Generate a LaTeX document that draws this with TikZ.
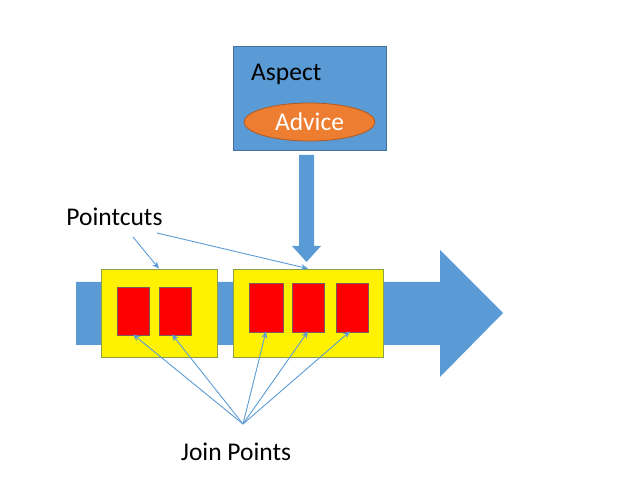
\documentclass[tikz,border=0pt]{standalone}
\usepackage{fontspec}
\setmainfont{Carlito}
\usetikzlibrary{arrows.meta,shapes.geometric}
\definecolor{mblue}{HTML}{5B9BD5}
\definecolor{mblueb}{HTML}{41719C}
\definecolor{morange}{HTML}{ED7D31}
\definecolor{morangeb}{HTML}{AE5A21}
\definecolor{myellowb}{HTML}{8A9E4A}
\definecolor{mredb}{HTML}{7A5A5A}
\tikzset{
  yellowbox/.style={draw=myellowb,fill=yellow,line width=0.8pt,minimum height=88pt,inner sep=0pt},
  redbox/.style={draw=mredb,fill=red,line width=0.8pt,minimum height=48pt,minimum width=32pt,inner sep=0pt},
  pointer/.style={draw=mblue,line width=0.9pt,-{Stealth[length=7pt,width=6pt]}},
  lbl/.style={font=\fontsize{25.5}{30}\selectfont,inner sep=0pt}
}
\begin{document}
\begin{tikzpicture}[x=1pt,y=-1pt]
\useasboundingbox (0,0) rectangle (640,486);
% main arrow
\fill[mblue] (76,282) -- (440,282) -- (440,250) -- (503,313) -- (440,377) -- (440,345) -- (76,345) -- cycle;
% aspect box
\node[draw=mblueb,fill=mblue,line width=0.8pt,minimum width=153pt,minimum height=104pt,inner sep=0pt] (aspect) at (309.5,98) {};
\node[lbl,anchor=west] (aspecttext) at (251,74) {Aspect};
\node[ellipse,draw=morangeb,fill=morange,line width=0.8pt,minimum width=131pt,minimum height=38pt,inner sep=0pt,lbl,text=white] (advice) at (309.5,122) {Advice};
% yellow boxes
\node[yellowbox,minimum width=116pt] (y1) at (159,313) {};
\node[yellowbox,minimum width=150pt] (y2) at (308,313) {};
% red boxes
\node[redbox] (r1) at (133,311) {};
\node[redbox] (r2) at (175,311) {};
\node[redbox,minimum height=49pt,minimum width=34pt] (r3) at (266,307.5) {};
\node[redbox,minimum height=49pt] (r4) at (308,307.5) {};
\node[redbox,minimum height=49pt] (r5) at (352,307.5) {};
% down arrow
\fill[mblue] (299,155) -- (314,155) -- (314,246) -- (321,246) -- (306.5,262) -- (292,246) -- (299,246) -- cycle;
% labels
\node[lbl] (pc) at (114.5,217) {Pointcuts};
\node[lbl] (jpt) at (236,452) {Join Points};
\coordinate (pc1) at (133,237);
\coordinate (pc2) at (157,233);
\coordinate (jp) at (243,424);
\draw[pointer] (pc1) -- (y1.north);
\draw[pointer] (pc2) -- (y2.north);
\draw[pointer] (jp) -- ([yshift=1pt]r1.south);
\draw[pointer] (jp) -- ([xshift=-3pt,yshift=1pt]r2.south);
\draw[pointer] (jp) -- ([yshift=1pt]r3.south);
\draw[pointer] (jp) -- ([yshift=1pt]r4.south);
\draw[pointer] (jp) -- ([xshift=-2pt,yshift=1pt]r5.south);
\end{tikzpicture}
\end{document}
